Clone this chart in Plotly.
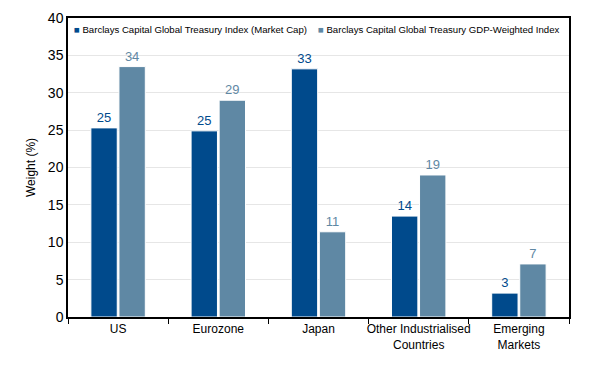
import plotly.graph_objects as go

categories = ["US", "Eurozone", "Japan", "Other Industrialised<br>Countries", "Emerging<br>Markets"]
market_cap = [25.3, 24.9, 33.2, 13.5, 3.2]
gdp_weighted = [33.5, 29.0, 11.4, 19.0, 7.1]
market_cap_labels = ["25", "25", "33", "14", "3"]
gdp_labels = ["34", "29", "11", "19", "7"]
series_names = ["Barclays Capital Global Treasury Index (Market Cap)",
                "Barclays Capital Global Treasury GDP-Weighted Index"]

DARK = "#004a8c"
LIGHT = "#5f88a4"
FONT = "Liberation Sans, Arial, sans-serif"

W, H = 600, 370
OFF = 8  # page body margin offset
ML, MR, MT, MB = 68 - OFF, 39, 18 - OFF, 61
PW = W - ML - MR
PH = H - MT - MB

fig = go.Figure()
fig.add_trace(go.Bar(x=categories, y=market_cap, name=series_names[0],
                     marker=dict(color=DARK, line=dict(color="white", width=1)),
                     text=market_cap_labels, textposition="outside",
                     textfont=dict(color=DARK, size=13, family=FONT), cliponaxis=False))
fig.add_trace(go.Bar(x=categories, y=gdp_weighted, name=series_names[1],
                     marker=dict(color=LIGHT, line=dict(color="white", width=1)),
                     text=gdp_labels, textposition="outside",
                     textfont=dict(color=LIGHT, size=13, family=FONT), cliponaxis=False))

# legend drawn as a compact text row inside the top of the plot frame
legend_x_px = [72, 316]
colors = [DARK, LIGHT]
for name, col, xp in zip(series_names, colors, legend_x_px):
    fig.add_annotation(
        xref="paper", yref="paper", x=(xp - OFF - ML) / PW, y=1 - (30 - OFF - MT) / PH,
        xanchor="left", yanchor="middle", showarrow=False,
        text=f"<span style='color:{col}'>■</span> {name}",
        font=dict(size=9.6, family=FONT, color="black"))

fig.update_layout(
    width=W, height=H,
    margin=dict(l=ML, r=MR, t=MT, b=MB),
    paper_bgcolor="white", plot_bgcolor="white",
    font=dict(family=FONT, size=12, color="black"),
    barmode="group", bargap=0.44, bargroupgap=0.06,
    showlegend=False,
    xaxis=dict(showline=True, linecolor="black", linewidth=1.5, mirror=True,
               ticks="outside", tickson="boundaries", ticklen=5, tickcolor="black",
               tickangle=0, tickfont=dict(size=12), automargin=False),
    yaxis=dict(range=[0, 40], dtick=5, showline=True, linecolor="black", linewidth=1.5,
               mirror=True, gridcolor="#e6e6e6", gridwidth=1, ticks="",
               tickfont=dict(size=14), zeroline=False, automargin=False,
               title=dict(text="Weight (%)", font=dict(size=12), standoff=10)),
)

fig.write_html("out.html")
